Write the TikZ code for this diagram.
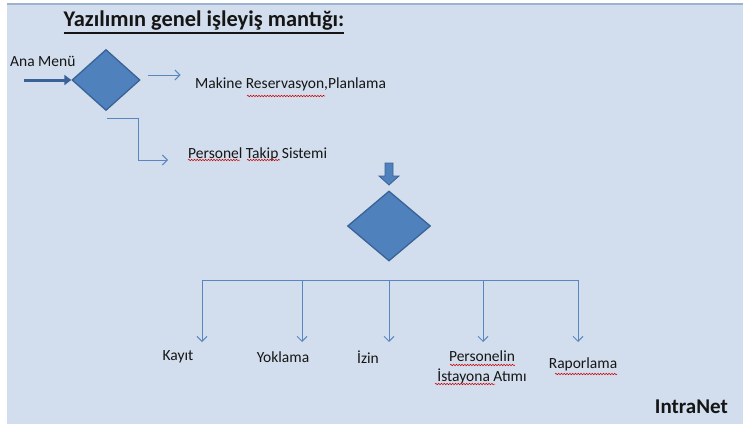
\documentclass[tikz,border=0pt]{standalone}
\usepackage{fontspec}
\setmainfont{Carlito}
\usetikzlibrary{arrows.meta,shapes.geometric,decorations.pathmorphing}
\definecolor{slidebg}{HTML}{D2DEED}
\definecolor{slidetop}{HTML}{9DB3D2}
\definecolor{shapefill}{HTML}{4F81BD}
\definecolor{shapeline}{HTML}{3A6296}
\definecolor{linkblue}{HTML}{5A86BF}
\definecolor{inktext}{HTML}{151515}
\tikzset{
  decision/.style={diamond, draw=shapeline, fill=shapefill, line width=1.3pt, inner sep=0pt},
  label/.style={text=inktext, font=\fontsize{15.5}{20}\selectfont, inner sep=0pt, anchor=center},
  link/.style={draw=linkblue, line width=1pt, -{Straight Barb[length=5pt,width=10pt]}},
  spell/.style={draw=red!80!black, line width=0.5pt, decorate, decoration={snake, segment length=2.8pt, amplitude=0.8pt}}
}
\begin{document}
\begin{tikzpicture}[x=1pt,y=-1pt]
  % slide area
  \useasboundingbox (0,0) rectangle (743,428);
  \fill[white] (0,0) rectangle (743,428);
  \fill[slidebg] (7,3) rectangle (743,424);
  \fill[slidetop] (7,3) rectangle (743,5.5);

  % title with a heavy underline
  \node[text=inktext, font=\fontsize{22.4}{26}\selectfont\bfseries, inner sep=0pt] (title) at (204,21)
    {Yazılımın genel işleyiş mantığı:};
  \draw[inktext, line width=1.8pt] ([yshift=-2pt]title.south west) -- ([yshift=-2pt]title.south east);

  % entry
  \node[label, anchor=west] (ana) at (10,61) {Ana Menü};
  \coordinate (in0) at (24,80);
  \node[decision, minimum width=68pt, minimum height=61pt] (d1) at (106,80) {};
  \draw[draw=shapeline, line width=3pt, -{Triangle[length=7pt,width=10pt]}] (in0) -- (d1.west);

  % first branch
  \node[label, anchor=west] (mak) at (195,84) {Makine Reservasyon,Planlama};
  \draw[link] ([xshift=7pt,yshift=5pt]d1.east) -- ++(33,0);

  % second branch
  \node[label, anchor=west] (pts) at (188,154) {Personel Takip Sistemi};
  \coordinate (e1) at (107,118);
  \draw[link] (e1) -- (138,118) -- (138,160) -- ++(30,0);

  % block arrow into the second decision
  \fill[shapefill, draw=shapeline, line width=0.8pt]
    (385,163) -- (393,163) -- (393,176) -- (399,176) -- (389,185) -- (379,176) -- (385,176) -- cycle;
  \node[decision, minimum width=83pt, minimum height=70pt] (d2) at (389,226) {};

  % bus with five drops
  \node[label] (kay) at (178,357) {Kayıt};
  \node[label] (yok) at (283,357) {Yoklama};
  \node[label] (izn) at (368,357) {İzin};
  \node[label, align=center] (ata) at (482,367) {Personelin\\İstayona Atımı};
  \node[label] (rap) at (583,364) {Raporlama};
  \draw[draw=linkblue, line width=1pt] (202,280) -- (578,280);
  \draw[link] (202,280) -- (202,342);
  \draw[link] (302,280) -- (302,342);
  \draw[link] (389,280) -- (389,342);
  \draw[link] (483,280) -- (483,342);
  \draw[link] (578,280) -- (578,342);

  % footer
  \node[text=inktext, font=\fontsize{21}{24}\selectfont\bfseries, anchor=east, inner sep=0pt] (intra) at (728,407) {IntraNet};

  % spell-check marks
  \draw[spell] (247,96) -- (325,96);
  \draw[spell] (188,160) -- (240,160);
  \draw[spell] (247,160) -- (280,160);
  \draw[spell] (450,365) -- (515,365);
  \draw[spell] (435,384) -- (495,384);
  \draw[spell] (555,374) -- (617,374);
\end{tikzpicture}
\end{document}
